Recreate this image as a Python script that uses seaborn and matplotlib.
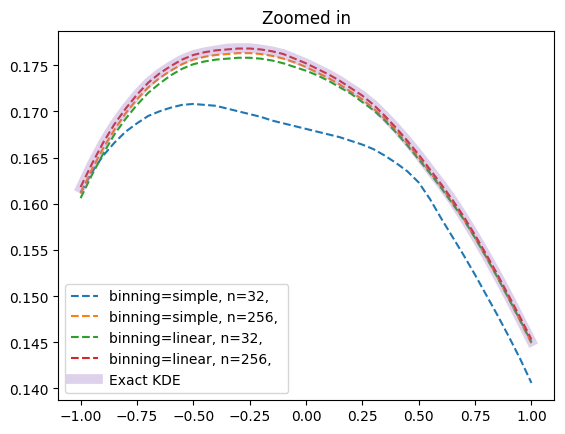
import numpy as np
import pandas as pd
import seaborn as sns
import matplotlib
matplotlib.use('Agg')
import matplotlib.pyplot as plt

# evaluation grid of the zoomed window
x = [-1.0, -0.95, -0.9, -0.85, -0.8, -0.75, -0.7, -0.65, -0.6, -0.55, -0.5,
     -0.45, -0.4, -0.35, -0.3, -0.25, -0.2, -0.15, -0.1, -0.05, 0.0,
     0.05, 0.1, 0.15, 0.2, 0.25, 0.3, 0.35, 0.4, 0.45, 0.5,
     0.55, 0.6, 0.65, 0.7, 0.75, 0.8, 0.85, 0.9, 0.95, 1.0]

# values
simple_32 = [0.1612, 0.1634, 0.1652, 0.1666, 0.1678, 0.1687, 0.1695, 0.1700, 0.1704, 0.1707, 0.1708,
             0.1707, 0.1706, 0.1703, 0.1700, 0.1697, 0.1694, 0.1690, 0.1687, 0.1684, 0.1681,
             0.1678, 0.1675, 0.1672, 0.1668, 0.1664, 0.1659, 0.1652, 0.1644, 0.1635, 0.1623,
             0.1605, 0.1584, 0.1564, 0.1544, 0.1523, 0.1501, 0.1479, 0.1456, 0.1432, 0.1406]
simple_256 = [0.1611, 0.1637, 0.1660, 0.1680, 0.1698, 0.1713, 0.1726, 0.1736, 0.1744, 0.1751, 0.1756,
              0.1759, 0.1761, 0.1762, 0.1763, 0.1763, 0.1762, 0.1760, 0.1757, 0.1753, 0.1748,
              0.1742, 0.1736, 0.1729, 0.1721, 0.1713, 0.1703, 0.1692, 0.1679, 0.1665, 0.1650,
              0.1634, 0.1618, 0.1601, 0.1583, 0.1563, 0.1542, 0.1520, 0.1497, 0.1473, 0.1449]
linear_32 = [0.1606, 0.1631, 0.1654, 0.1675, 0.1692, 0.1707, 0.1720, 0.1730, 0.1739, 0.1746, 0.1751,
             0.1754, 0.1756, 0.1757, 0.1758, 0.1758, 0.1757, 0.1755, 0.1752, 0.1748, 0.1744,
             0.1739, 0.1733, 0.1726, 0.1719, 0.1710, 0.1701, 0.1690, 0.1677, 0.1663, 0.1648,
             0.1633, 0.1617, 0.1600, 0.1583, 0.1563, 0.1542, 0.1520, 0.1497, 0.1474, 0.1450]
linear_256 = [0.1618, 0.1643, 0.1666, 0.1686, 0.1703, 0.1718, 0.1731, 0.1741, 0.1749, 0.1756, 0.1761,
              0.1764, 0.1766, 0.1767, 0.1768, 0.1768, 0.1767, 0.1765, 0.1762, 0.1757, 0.1752,
              0.1746, 0.1740, 0.1733, 0.1725, 0.1717, 0.1707, 0.1695, 0.1682, 0.1668, 0.1653,
              0.1637, 0.1621, 0.1604, 0.1586, 0.1566, 0.1545, 0.1523, 0.1500, 0.1477, 0.1453]
exact_kde = [0.1617, 0.1643, 0.1666, 0.1686, 0.1703, 0.1718, 0.1731, 0.1741, 0.1749, 0.1756, 0.1761,
             0.1764, 0.1766, 0.1768, 0.17685, 0.17685, 0.1767, 0.1765, 0.1762, 0.1757, 0.1752,
             0.1746, 0.1740, 0.1733, 0.1725, 0.1717, 0.1707, 0.1695, 0.1682, 0.1668, 0.1653,
             0.1637, 0.1621, 0.1604, 0.1585, 0.1565, 0.1544, 0.1522, 0.1499, 0.1475, 0.1451]

series = [
    ('binning=simple, n=32, ', simple_32),
    ('binning=simple, n=256, ', simple_256),
    ('binning=linear, n=32, ', linear_32),
    ('binning=linear, n=256, ', linear_256),
]

fig = plt.figure(figsize=(5.65, 4.35), dpi=100)
ax = fig.add_axes([0.1027, 0.0789, 0.8778, 0.8468])

for i, (label, vals) in enumerate(series):
    sns.lineplot(x=x, y=vals, ax=ax, linestyle='--', color=f'C{i}', label=label)

# exact KDE drawn last as a wide translucent band
sns.lineplot(x=x, y=exact_kde, ax=ax, color='C4', alpha=0.3, linewidth=7, label='Exact KDE')

ax.set_title('Zoomed in')
ax.legend(loc='lower left')

fig.savefig('out.png', dpi=100)
